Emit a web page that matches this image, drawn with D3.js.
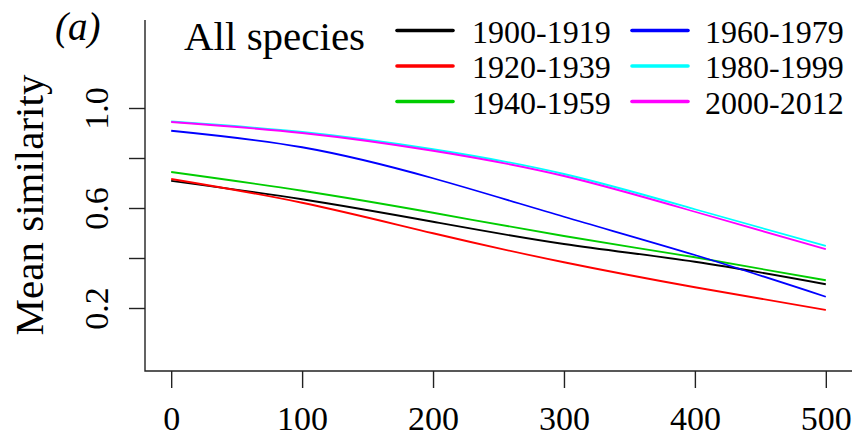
<!DOCTYPE html>
<html>
<head>
<meta charset="utf-8">
<script src="https://cdn.jsdelivr.net/npm/d3@7"></script>
<style>
  html, body { margin: 0; padding: 0; background: #fff; }
  svg { display: block; font-family: "Liberation Serif", "Times New Roman", serif; }
  svg text { font-family: "Liberation Serif", "Times New Roman", serif; }
</style>
</head>
<body>
<svg id="chart" width="856" height="436"></svg>
<script>
// ---- data ----
const distances = [0, 100, 200, 300, 400, 500];
const periods = ["1900-1919", "1920-1939", "1940-1959", "1960-1979", "1980-1999", "2000-2012"];
const colors  = ["#000000", "#ff0000", "#00cd00", "#0000ff", "#00ffff", "#ff00ff"];
const s1900 = [0.709, 0.635, 0.545, 0.456, 0.385, 0.295];
const s1920 = [0.716, 0.621, 0.499, 0.383, 0.283, 0.192];
const s1940 = [0.744, 0.669, 0.581, 0.488, 0.403, 0.311];
const s1960 = [0.909, 0.843, 0.719, 0.565, 0.412, 0.245];
const s1980 = [0.946, 0.904, 0.835, 0.736, 0.595, 0.448];
const s2000 = [0.944, 0.900, 0.829, 0.728, 0.585, 0.435];
const seriesValues = [s1900, s1920, s1940, s1960, s1980, s2000];
const xTickValues = [0, 100, 200, 300, 400, 500];
const xTickLabels = ["0", "100", "200", "300", "400", "500"];
const yTickValues = [0.2, 0.4, 0.6, 0.8, 1.0];
const yTickLabels = ["0.2", "", "0.6", "", "1.0"];
const yTitle = "Mean similarity";
const panelLabel = "(a)";
const subsetLabel = "All species";

// ---- layout ----
const FONT = '"Liberation Serif", "Times New Roman", serif';
const svg = d3.select("#chart");
const x = d3.scaleLinear().domain([-20, 520]).range([145, 852]);
const y = d3.scaleLinear().domain([-0.052, 1.352]).range([371, 20]);

// axes lines (L-shaped box)
svg.append("path")
  .attr("d", `M${x(-20)},${y(1.352)}V${y(-0.052)}H${x(520)}`)
  .attr("fill", "none").attr("stroke", "#222").attr("stroke-width", 1.4);

// x axis
const xAxis = d3.axisBottom(x).tickValues(xTickValues)
  .tickFormat((d, i) => xTickLabels[i]).tickSize(17).tickPadding(0);
const gx = svg.append("g").attr("transform", `translate(0,${y(-0.052)})`).call(xAxis)
  .attr("font-family", FONT);
gx.select(".domain").remove();
gx.selectAll(".tick line").attr("stroke", "#222").attr("stroke-width", 1.4);
gx.selectAll(".tick text").attr("fill", "#000").attr("font-size", 34)
  .attr("font-family", FONT).attr("y", 59).attr("dy", 0);

// y axis
const yAxis = d3.axisLeft(y).tickValues(yTickValues)
  .tickFormat((d, i) => yTickLabels[i]).tickSize(16).tickPadding(0);
const gy = svg.append("g").attr("transform", `translate(${x(-20)},0)`).call(yAxis)
  .attr("font-family", FONT);
gy.select(".domain").remove();
gy.selectAll(".tick line").attr("stroke", "#222").attr("stroke-width", 1.4);
gy.selectAll(".tick text").attr("fill", "#000").attr("font-size", 34)
  .attr("font-family", FONT)
  .attr("x", 0).attr("dy", 0).attr("text-anchor", "middle")
  .attr("transform", "translate(-37,0) rotate(-90)");

// y title
svg.append("text").attr("transform", "translate(43,205) rotate(-90)")
  .attr("text-anchor", "middle").attr("font-size", 41).attr("fill", "#000").text(yTitle);

// panel label
svg.append("text").attr("x", 55).attr("y", 40).attr("font-size", 39)
  .attr("font-style", "italic").attr("fill", "#000").text(panelLabel);
svg.append("text").attr("x", 184).attr("y", 50).attr("font-size", 41)
  .attr("fill", "#000").text(subsetLabel);

// lines
const line = d3.line().x((d, i) => x(distances[i])).y(d => y(d)).curve(d3.curveNatural);
seriesValues.forEach((vals, k) => {
  svg.append("path").attr("d", line(vals)).attr("fill", "none")
    .attr("stroke", colors[k]).attr("stroke-width", 1.8);
});

// legend
const legCols = [{lx: 397, tx: 472}, {lx: 632, tx: 705}];
const legRows = [42.5, 78, 113.5];
periods.forEach((p, k) => {
  const c = legCols[Math.floor(k / 3)], r = legRows[k % 3];
  svg.append("line").attr("x1", c.lx).attr("x2", c.lx + 56)
    .attr("y1", r - 12).attr("y2", r - 12)
    .attr("stroke", colors[k]).attr("stroke-width", 3.6).attr("stroke-linecap", "round");
  svg.append("text").attr("x", c.tx).attr("y", r).attr("font-size", 32)
    .attr("fill", "#000").text(p);
});
</script>
</body>
</html>
